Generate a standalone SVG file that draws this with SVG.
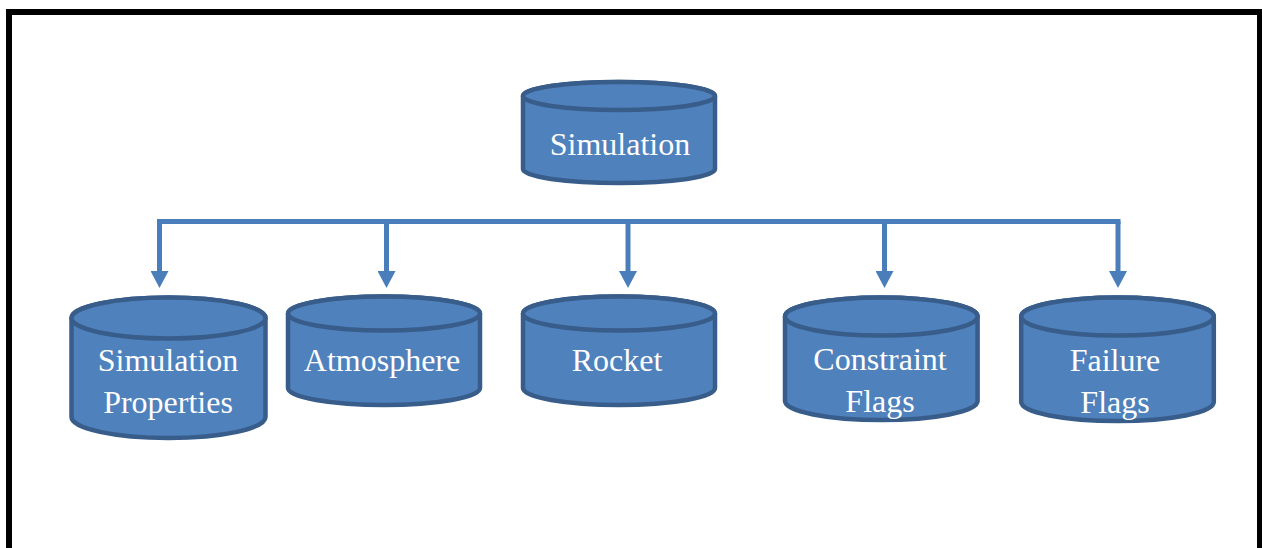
<svg xmlns="http://www.w3.org/2000/svg" width="1262" height="548" viewBox="0 0 1262 548">
<style>
.cyl{fill:#4F81BD;stroke:#385D8A;stroke-width:4.5;stroke-linejoin:round}
.lbl{font-family:"Liberation Serif","Times New Roman",serif;font-size:32px;fill:#FFFFFF;text-anchor:middle}
.conn{fill:none;stroke:#4A7EBB;stroke-width:5}
</style>
<defs>
<marker id="ah" markerUnits="userSpaceOnUse" markerWidth="18" markerHeight="18" refX="0" refY="9" orient="auto" viewBox="0 0 17 18">
<path d="M0,0 L17,9 L0,18 Z" fill="#4A7EBB"/>
</marker>
</defs>
<rect x="9" y="12" width="1251" height="600" fill="#FFFFFF" stroke="#000000" stroke-width="6"/>
<g id="connectors">
<path class="conn" d="M157 221.5 H1120.5"/>
<path class="conn" d="M159.5 221.5 V271" marker-end="url(#ah)"/>
<path class="conn" d="M386.5 221.5 V271" marker-end="url(#ah)"/>
<path class="conn" d="M628 221.5 V271" marker-end="url(#ah)"/>
<path class="conn" d="M884.5 221.5 V271" marker-end="url(#ah)"/>
<path class="conn" d="M1118 221.5 V271" marker-end="url(#ah)"/>
</g>
<g id="node-simulation">
<path class="cyl" d="M523 96 V169 A96 14 0 0 0 715 169 V96 A96 14 0 0 0 523 96 Z"/>
<ellipse class="cyl" cx="619" cy="96" rx="96" ry="14"/>
<text class="lbl" x="620" y="155">Simulation</text>
</g>
<g id="node-simulation-properties">
<path class="cyl" d="M71.5 318 V417 A97 21 0 0 0 265.5 417 V318 A97 20.5 0 0 0 71.5 318 Z"/>
<ellipse class="cyl" cx="168.5" cy="318" rx="97" ry="20.5"/>
<text class="lbl" x="168" y="371">Simulation</text>
<text class="lbl" x="168" y="413">Properties</text>
</g>
<g id="node-atmosphere">
<path class="cyl" d="M288 313.5 V388 A96 17 0 0 0 480 388 V313.5 A96 17 0 0 0 288 313.5 Z"/>
<ellipse class="cyl" cx="384" cy="313.5" rx="96" ry="17"/>
<text class="lbl" x="382" y="371">Atmosphere</text>
</g>
<g id="node-rocket">
<path class="cyl" d="M523 313.5 V388 A96 17 0 0 0 715 388 V313.5 A96 17 0 0 0 523 313.5 Z"/>
<ellipse class="cyl" cx="619" cy="313.5" rx="96" ry="17"/>
<text class="lbl" x="617" y="371">Rocket</text>
</g>
<g id="node-constraint-flags">
<path class="cyl" d="M785 316.5 V401 A96.3 19 0 0 0 977.6 401 V316.5 A96.3 19 0 0 0 785 316.5 Z"/>
<ellipse class="cyl" cx="881.3" cy="316.5" rx="96.3" ry="19"/>
<text class="lbl" x="880" y="370">Constraint</text>
<text class="lbl" x="880" y="412">Flags</text>
</g>
<g id="node-failure-flags">
<path class="cyl" d="M1021.2 316.5 V402 A96.3 19 0 0 0 1213.8 402 V316.5 A96.3 19 0 0 0 1021.2 316.5 Z"/>
<ellipse class="cyl" cx="1117.5" cy="316.5" rx="96.3" ry="19"/>
<text class="lbl" x="1115" y="371">Failure</text>
<text class="lbl" x="1115" y="413">Flags</text>
</g>
</svg>
